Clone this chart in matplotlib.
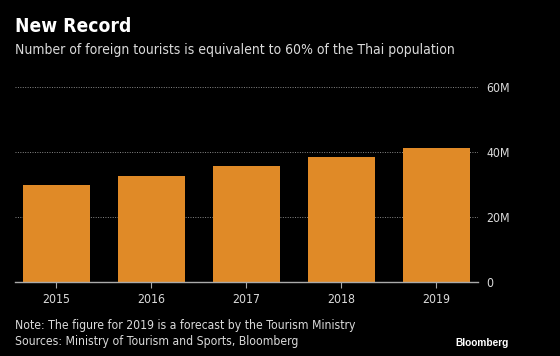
import matplotlib
matplotlib.use("Agg")
import matplotlib.pyplot as plt
from matplotlib import font_manager as fm

years = ["2015", "2016", "2017", "2018", "2019"]
tourists_m = [29.9, 32.5, 35.5, 38.3, 41.1]
y_ticks = [0, 20, 40, 60]
y_tick_labels = ["0", "20M", "40M", "60M"]

title = "New Record"
subtitle = "Number of foreign tourists is equivalent to 60% of the Thai population"
note = "Note: The figure for 2019 is a forecast by the Tourism Ministry"
source = "Sources: Ministry of Tourism and Sports, Bloomberg"

bg = "#000000"
bar_color = "#E08A27"
text_color = "#DADADA"

cond = [f for f in fm.fontManager.ttflist if f.name == "DejaVu Sans" and f.stretch == "condensed"]
has_cond = len(cond) > 0
scale = 1.0 if has_cond else 0.9

def tfont(size, weight="normal"):
    d = dict(family="DejaVu Sans", fontsize=size * scale, fontweight=weight)
    if has_cond:
        d["fontstretch"] = "condensed"
    return d

fig = plt.figure(figsize=(5.6, 3.56), dpi=100, facecolor=bg)
W, H = 560, 356
ax = fig.add_axes([15 / W, 1 - 281.7 / H, (477.7 - 15) / W, (281.7 - 86.7) / H], facecolor=bg)

x = list(range(len(years)))
ax.bar(x, tourists_m, width=0.70, color=bar_color, zorder=3)
ax.set_xlim(-0.435, 4.435)
ax.set_ylim(0, 60)

ax.yaxis.tick_right()
ax.set_yticks(y_ticks)
ax.set_yticklabels(y_tick_labels)
ax.set_xticks(x)
ax.set_xticklabels(years)
ax.tick_params(axis="y", length=0, pad=6, labelcolor=text_color)
ax.tick_params(axis="x", length=4, color="#AAAAAA", width=0.8, pad=4, labelcolor=text_color)
for lab in ax.get_xticklabels() + ax.get_yticklabels():
    lab.set(**tfont(8.8))
ax.grid(axis="y", color="#888888", linestyle=(0, (1, 1.5)), linewidth=0.7, zorder=0)
for s in ["top", "right", "left"]:
    ax.spines[s].set_visible(False)
ax.spines["bottom"].set_color("#AAAAAA")
ax.spines["bottom"].set_linewidth(1.0)
ax.spines["bottom"].set_zorder(4)

fig.text(15 / W, 1 - 27 / H, title, color="white", va="center", **tfont(13.8, "bold"))
fig.text(15 / W, 1 - 50 / H, subtitle, color=text_color, va="center", **tfont(10))
fig.text(15 / W, 1 - 325 / H, note, color=text_color, va="center", **tfont(8.7))
fig.text(15 / W, 1 - 341 / H, source, color=text_color, va="center", **tfont(8.7))
fig.text(509 / W, 1 - 343 / H, "Bloomberg", color="white", fontsize=7.3, fontweight="bold",
         ha="right", va="center", family="Liberation Sans")

fig.savefig("out.png", dpi=100, facecolor=bg)
